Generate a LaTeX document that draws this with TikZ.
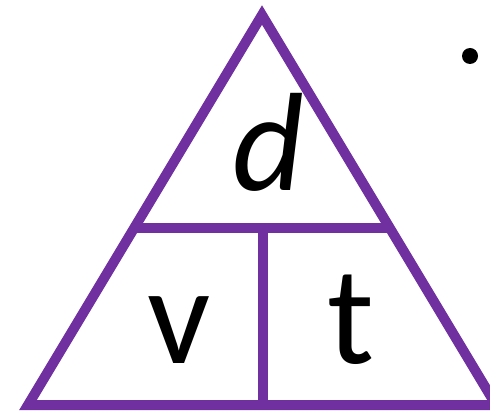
\documentclass[tikz,border=0pt]{standalone}
\usepackage{fontspec}
\setmainfont{Carlito}
\usetikzlibrary{calc}
\definecolor{tripurple}{HTML}{7030A0}
\begin{document}
\begin{tikzpicture}[x=0.5pt, y=-0.5pt,
    edge/.style={draw=tripurple, line width=5pt, line join=miter},
    letter/.style={anchor=base, inner sep=0pt, font=\fontsize{70}{70}\selectfont}]
    \useasboundingbox (0,0) rectangle (490,411);
    % 1. 三角形外框
    \coordinate (apex) at (262,15);
    \coordinate (left) at (28,405);
    \coordinate (right) at (496,405);
    \draw[edge] (apex) -- (left) -- (right) -- cycle;
    
    % 2. 分隔线
    \coordinate (midL) at ($(apex)!0.546!(left)$);
    \coordinate (midR) at ($(apex)!0.546!(right)$);
    \coordinate (midT) at (263,228);
    \coordinate (midB) at (263,405);
    \draw[edge] (midL) -- (midR);
    \draw[edge] (midT) -- (midB);
    
    % 3. 字母
    \node[letter] (dist) at (268,190) {\textit{d}};
    \node[letter] (vel) at (179,363) {v};
    \node[letter] (time) at (351,363) {t};
    
    % 4. 圆点
    \fill (470,56) circle (8);
\end{tikzpicture}
\end{document}
